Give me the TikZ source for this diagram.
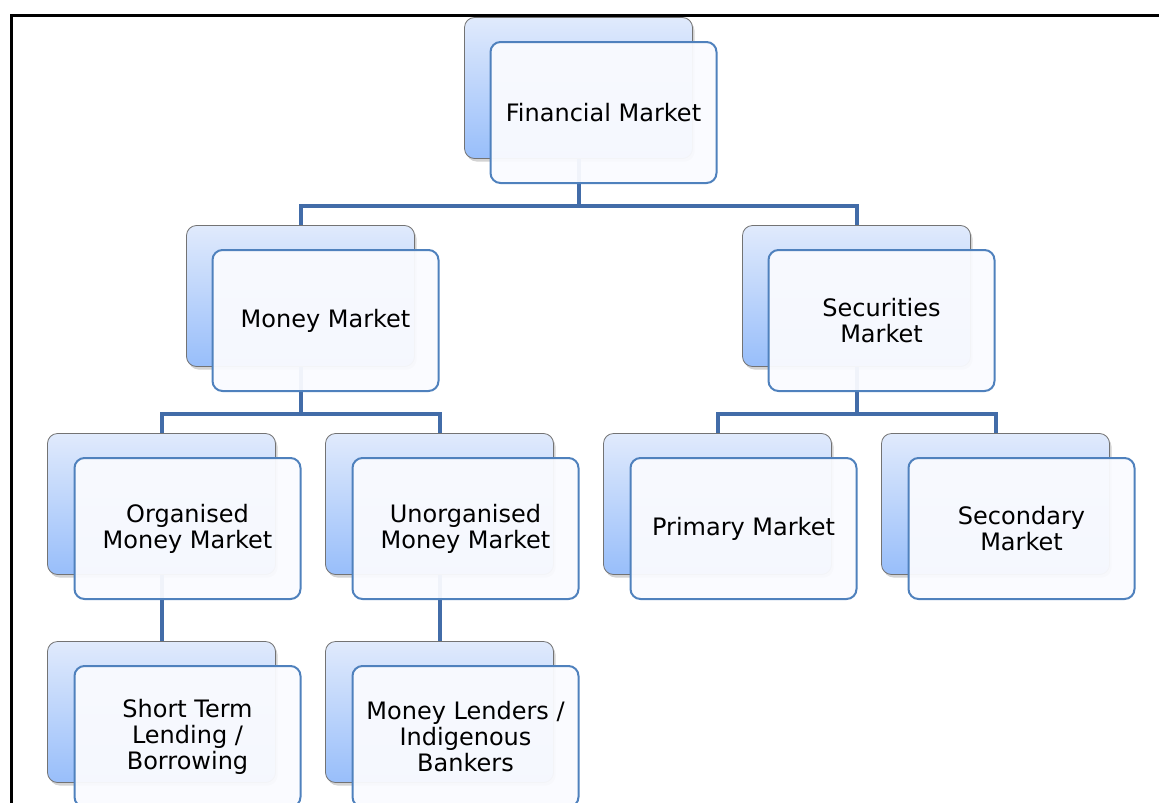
\documentclass[tikz,border=0pt]{standalone}
\usepackage{fontspec}
\setmainfont{DejaVu Sans}
\usetikzlibrary{shadows}

\definecolor{backtop}{RGB}{224,234,252}
\definecolor{backbot}{RGB}{152,190,250}
\definecolor{frontfill}{RGB}{250,251,255}
\definecolor{frontline}{RGB}{79,129,189}
\definecolor{linkline}{RGB}{66,108,168}

\tikzset{
  backbox/.style={draw=black!55, line width=0.8pt, rounded corners=10pt,
    minimum width=228pt, minimum height=141pt,
    top color=backtop, bottom color=backbot,
    drop shadow={opacity=0.35, shadow xshift=2pt, shadow yshift=-3pt}},
  frontbox/.style={draw=frontline, line width=2pt, rounded corners=10pt,
    minimum width=226pt, minimum height=141pt, fill=frontfill,
    fill opacity=0.95, text opacity=1, align=center,
    font=\fontsize{24}{26}\selectfont},
  link/.style={draw=linkline, line width=4pt}
}

\begin{document}
\begin{tikzpicture}[x=1pt, y=-1pt]

  \newcommand\X{278}
  \newcommand\Y{208}

  \useasboundingbox (0,0) rectangle (1159,803);
  \draw[line width=3pt] (11.5,803) -- (11.5,15.5) -- (1159,15.5);

  % back boxes
  \node[backbox] (fin) at (161.5+1.5*\X, 88+0*\Y) {};
  \node[backbox] (mon) at (161.5+0.5*\X, 88+1*\Y) {};
  \node[backbox] (sec) at (161.5+2.5*\X, 88+1*\Y) {};
  \node[backbox] (org) at (161.5+0*\X, 88+2*\Y) {};
  \node[backbox] (unorg) at (161.5+1*\X, 88+2*\Y) {};
  \node[backbox] (prim) at (161.5+2*\X, 88+2*\Y) {};
  \node[backbox] (secd) at (161.5+3*\X, 88+2*\Y) {};
  \node[backbox] (short) at (161.5+0*\X, 88+3*\Y) {};
  \node[backbox] (lend) at (161.5+1*\X, 88+3*\Y) {};

  % connectors
  \draw[link] (fin.south) -- ++(0,47) coordinate (fin-j) -| (mon.north);
  \draw[link] (fin-j) -| (sec.north);
  \draw[link] (mon.south) -- ++(0,47) coordinate (mon-j) -| (org.north);
  \draw[link] (mon-j) -| (unorg.north);
  \draw[link] (sec.south) -- ++(0,47) coordinate (sec-j) -| (prim.north);
  \draw[link] (sec-j) -| (secd.north);
  \draw[link] (org.south) -- (short.north);
  \draw[link] (unorg.south) -- (lend.north);

  % front boxes
  \node[frontbox] (fin-t) at ([shift={(25,24.5)}]fin.center) {Financial Market};
  \node[frontbox] (mon-t) at ([shift={(25,24.5)}]mon.center) {Money Market};
  \node[frontbox] (sec-t) at ([shift={(25,24.5)}]sec.center) {Securities\\Market};
  \node[frontbox] (org-t) at ([shift={(26,24.5)}]org.center) {Organised\\Money Market};
  \node[frontbox] (unorg-t) at ([shift={(26,24.5)}]unorg.center) {Unorganised\\Money Market};
  \node[frontbox] (prim-t) at ([shift={(26,24.5)}]prim.center) {Primary Market};
  \node[frontbox] (secd-t) at ([shift={(26,24.5)}]secd.center) {Secondary\\Market};
  \node[frontbox] (short-t) at ([shift={(26,24.5)}]short.center) {Short Term\\Lending /\\Borrowing};
  \node[frontbox] (lend-t) at ([shift={(26,24.5)}]lend.center) {Money Lenders /\\Indigenous\\Bankers};

\end{tikzpicture}
\end{document}
